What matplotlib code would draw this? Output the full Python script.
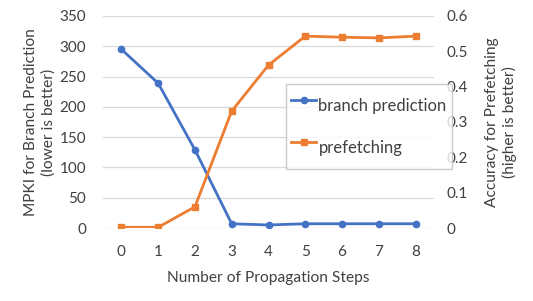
import matplotlib
matplotlib.use("Agg")
import matplotlib.pyplot as plt
from matplotlib.ticker import FuncFormatter

plt.rcParams['font.family'] = ['Lato', 'DejaVu Sans']

steps = [0, 1, 2, 3, 4, 5, 6, 7, 8]
branch_mpki = [295, 239, 129, 7, 5, 7, 7, 7, 7]
prefetch_acc = [0.002, 0.002, 0.06, 0.331, 0.461, 0.543, 0.540, 0.538, 0.543]
left_ticks = [0, 50, 100, 150, 200, 250, 300, 350]
right_ticks = [0, 0.1, 0.2, 0.3, 0.4, 0.5, 0.6]

blue = '#4472C4'
orange = '#ED7D31'
txt = '#404040'
fs = 11.2

fig = plt.figure(figsize=(5.33, 3.01), dpi=100)
ax = fig.add_axes([103/533, 1-228/301, (434-103)/533, (228-16)/301])
ax2 = ax.twinx()

ax.set_ylim(0, 350)
ax.set_yticks(left_ticks)
ax2.set_ylim(0, 0.6)
ax2.set_yticks(right_ticks)
ax2.yaxis.set_major_formatter(FuncFormatter(lambda v, p: '0' if v == 0 else f'{v:g}'))
ax.set_xlim(-0.5, 8.5)
ax.set_xticks(steps)

ax.yaxis.grid(True, color='#D9D9D9', lw=0.9)
ax.set_axisbelow(True)
for a in (ax, ax2):
    for s in a.spines.values():
        s.set_visible(False)
    a.tick_params(length=0, labelsize=11, colors=txt)
ax.tick_params(axis='x', pad=12)
ax.tick_params(axis='y', pad=12)
ax2.tick_params(axis='y', pad=9)

l1, = ax.plot(steps, branch_mpki, color=blue, lw=2, marker='o', ms=4.5, label='branch prediction', zorder=3)
l2, = ax2.plot(steps, prefetch_acc, color=orange, lw=2, marker='s', ms=5, label='prefetching', zorder=3)

ax.set_xlabel('Number of Propagation Steps', fontsize=fs, color=txt, labelpad=9)
ax.set_ylabel('MPKI for Branch Prediction\n(lower is better)', fontsize=fs, color=txt, labelpad=3, linespacing=1.3)
ax2.set_ylabel('Accuracy for Prefetching\n(higher is better)', fontsize=fs, color=txt, labelpad=12, linespacing=1.3)

leg = fig.legend(handles=[l1, l2], loc='upper left', bbox_to_anchor=(286/533, 1-84/301),
                 fontsize=12, frameon=True, fancybox=False, edgecolor='#BFBFBF',
                 labelspacing=0.54, handlelength=1.5, handleheight=2.67,
                 handletextpad=0.15, borderpad=0.3,
                 borderaxespad=0, labelcolor=txt)
leg.get_frame().set_linewidth(1.0)

fig.savefig('out.png', dpi=100)
